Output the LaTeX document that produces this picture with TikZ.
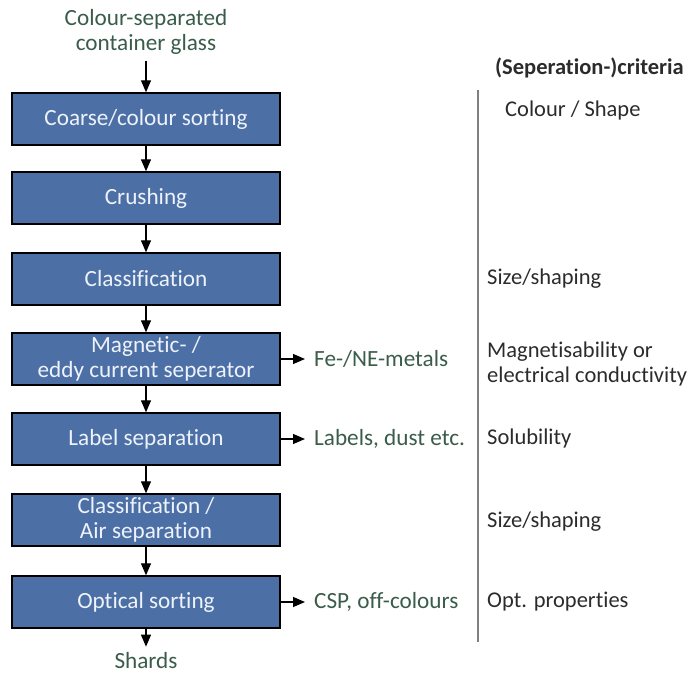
\documentclass[tikz,border=0pt]{standalone}
\usepackage{fontspec}
\setmainfont{Carlito}[Ligatures=CommonOff]
\usetikzlibrary{arrows.meta,positioning}
\definecolor{boxblue}{HTML}{4C70A6}
\definecolor{boxtext}{HTML}{EEF2FA}
\definecolor{outgreen}{HTML}{3A5C4A}
\definecolor{critgray}{HTML}{2B2B2B}
\tikzset{
  stage/.style={draw=black,line width=0.8pt,fill=boxblue,text=boxtext,
    minimum width=5.36cm,minimum height=1.04cm,align=center,inner sep=1pt,
    font=\fontsize{13.2}{14}\selectfont},
  outtext/.style={text=outgreen,align=center,font=\fontsize{13.2}{14}\selectfont},
  crit/.style={text=critgray,anchor=west,align=left,font=\fontsize{12.8}{14}\selectfont},
  arr/.style={-{Triangle[length=2.4mm,width=2mm]},line width=0.7pt,black}
}
\begin{document}
\begin{tikzpicture}
\useasboundingbox (0,0) rectangle (13.84,13.54);
% process chain
\node[outtext] (src) at (2.92,12.9) {Colour-separated\\container glass};
\node[stage] (b1) at (2.92,11.16) {Coarse/colour sorting};
\node[stage] (b2) at (2.92,9.58) {Crushing};
\node[stage] (b3) at (2.92,7.96) {Classification};
\node[stage] (b4) at (2.92,6.36) {Magnetic- /\\eddy current seperator};
\node[stage] (b5) at (2.92,4.76) {Label separation};
\node[stage] (b6) at (2.92,3.14) {Classification /\\Air separation};
\node[stage] (b7) at (2.92,1.50) {Optical sorting};
\node[outtext] (shards) at (2.92,0.32) {Shards};
\draw[arr] (src) -- (b1);
\draw[arr] (b1) -- (b2);
\draw[arr] (b2) -- (b3);
\draw[arr] (b3) -- (b4);
\draw[arr] (b4) -- (b5);
\draw[arr] (b5) -- (b6);
\draw[arr] (b6) -- (b7);
\draw[arr] (b7) -- (shards);
% outputs
\coordinate (o4) at (6.1,6.36);
\coordinate (o5) at (6.1,4.76);
\coordinate (o7) at (6.1,1.50);
\node[outtext,anchor=west] (l4) at (6.16,6.36) {Fe-/NE-metals};
\node[outtext,anchor=west] (l5) at (6.16,4.76) {Labels, dust etc.};
\node[outtext,anchor=west] (l7) at (6.16,1.50) {CSP, off-colours};
\draw[arr] (b4.east) -- (o4);
\draw[arr] (b5.east) -- (o5);
\draw[arr] (b7.east) -- (o7);
% criteria column
\coordinate (ltop) at (9.56,11.74);
\coordinate (lbot) at (9.56,0.70);
\draw[gray,line width=0.6pt] (ltop) -- (lbot);
\node[crit,font=\fontsize{12.8}{14}\selectfont\bfseries] (head) at (9.78,12.18) {(Seperation-)criteria};
\node[crit] (c1) at (9.98,11.32) {Colour / Shape};
\node[crit] (c3) at (9.62,7.96) {Size/shaping};
\node[crit] (c4) at (9.62,6.26) {Magnetisability or\\electrical conductivity};
\node[crit] (c5) at (9.62,4.76) {Solubility};
\node[crit] (c6) at (9.62,3.10) {Size/shaping};
\node[crit] (c7) at (9.62,1.50) {Opt. properties};
\end{tikzpicture}
\end{document}
